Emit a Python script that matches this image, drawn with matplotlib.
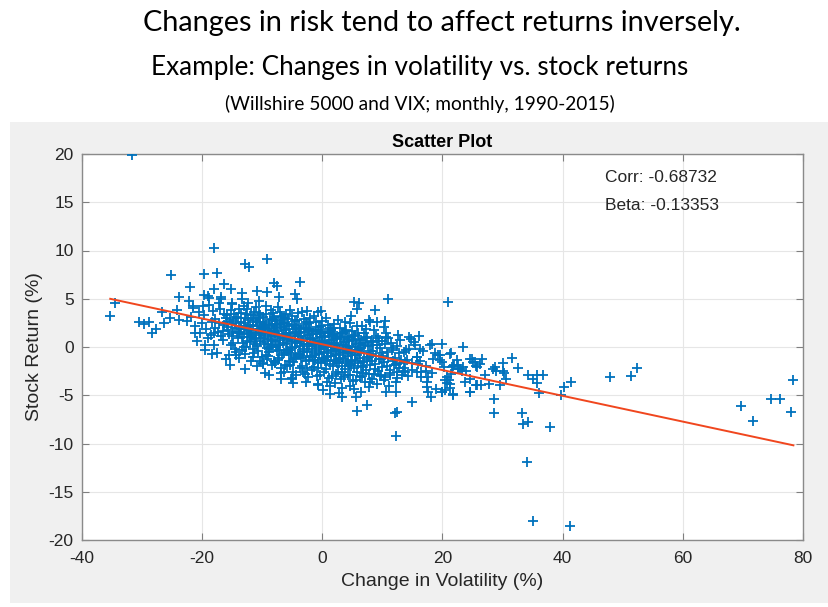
import numpy as np
import matplotlib
matplotlib.use("Agg")
import matplotlib.pyplot as plt
from matplotlib.patches import Rectangle

# ---------------- data (change in volatility %, stock return %) ----------------
left_tail = [
    (-31.7, 19.9), (-35.3, 3.2), (-34.5, 4.56), (-18.0, 10.26), (-25.2, 7.46), (-19.7, 7.6),
    (-17.5, 7.7), (-12.8, 8.6), (-12.2, 8.26), (-9.15, 9.1), (-22.0, 6.25), (-16.3, 6.56),
    (-18.1, 6.0), (-15.2, 5.97), (-23.85, 5.2), (-19.7, 5.36), (-19.0, 5.3), (-22.2, 4.77),
    (-21.6, 4.28), (-13.3, 5.6), (-10.9, 5.8), (-9.25, 5.73), (-8.0, 6.66), (-7.6, 6.35),
    (-7.26, 5.2), (-4.5, 5.46), (-4.2, 5.0), (-3.8, 6.7), (-26.7, 3.66), (-24.2, 3.83),
    (-30.5, 2.56), (-29.6, 2.35), (-28.8, 2.62), (-28.4, 1.48), (-27.7, 1.87), (-26.3, 2.45),
    (-25.4, 2.97), (-23.8, 2.76), (-21.2, 1.48), (-19.9, 4.25), (-16.9, 4.97), (-15.1, 4.6),
    (-2.6, 3.76), (-0.8, 3.66), (-0.3, 3.76), (-19.6, 0.2), (-18.3, -0.73), (-14.4, -0.55),
    (-14.4, -0.83), (-13.1, 0.0), (-11.5, -1.0), (-9.8, -1.7), (-9.5, -2.66), (-7.9, -1.7),
    (-6.8, -2.73), (-5.1, -3.24), (-6.2, -1.87),
]

core = [
    (-21.8, 3.1), (-21.2, 2.2), (-20.6, 3.6), (-20.3, 1.4), (-21.5, 4.0), (-20.9, 0.6), (-22.5, 2.7), (-20.1, 2.5),
    (-19.7, 3.3), (-19.3, 1.9), (-18.8, 4.4), (-18.4, 2.6), (-19.0, 0.9), (-18.2, 3.7), (-19.5, -0.3), (-18.6, 1.2),
    (-18.9, 5.1), (-18.1, 0.2),
    (-17.8, 2.9), (-17.4, 1.6), (-17.0, 3.9), (-16.6, 0.7), (-17.2, 4.6), (-16.3, 2.3), (-17.6, -0.6), (-16.9, 1.1),
    (-16.4, 3.4), (-17.9, 2.0), (-16.1, -1.2), (-16.8, 5.2),
    (-15.8, 2.6), (-15.5, 1.3), (-15.2, 3.8), (-14.8, 0.4), (-15.0, 4.5), (-14.5, 2.0), (-15.6, -0.8), (-14.3, 3.1),
    (-14.9, 1.6), (-15.3, -1.9), (-14.1, 0.9), (-15.9, 3.3), (-14.6, -0.2), (-15.1, 2.4),
    (-13.9, 2.2), (-13.6, 3.5), (-13.3, 1.0), (-13.0, 4.2), (-12.7, 0.0), (-12.4, 2.8), (-13.8, -1.1), (-12.2, 1.7),
    (-13.4, 5.0), (-12.9, -0.7), (-12.5, 3.9), (-13.1, 2.5), (-12.1, 0.5), (-13.7, 1.4), (-12.8, -2.3), (-12.3, 4.6),
    (-11.9, 1.9), (-11.6, 3.0), (-11.3, 0.8), (-11.0, 4.1), (-10.7, -0.4), (-10.4, 2.4), (-11.8, -1.5), (-10.2, 1.2),
    (-11.4, 3.6), (-10.9, 0.1), (-10.5, 4.8), (-11.1, 2.8), (-10.1, -1.0), (-11.7, 1.0), (-10.8, -2.0), (-10.3, 3.3),
    (-11.5, -0.2), (-10.6, 1.6),
    (-9.9, 2.1), (-9.6, 0.3), (-9.3, 3.4), (-9.0, -0.9), (-8.7, 1.5), (-8.4, 2.9), (-9.8, -1.8), (-8.2, 0.6),
    (-9.4, 4.3), (-8.9, -0.2), (-8.5, 3.8), (-9.1, 1.1), (-8.1, -1.4), (-9.7, 2.6), (-8.8, -2.9), (-8.3, 2.2),
    (-9.5, 1.8), (-8.6, 0.0), (-9.2, -1.2), (-8.0, 3.1),
    (-7.9, 1.4), (-7.6, 2.7), (-7.3, 0.2), (-7.0, 3.6), (-6.7, -0.8), (-6.4, 1.9), (-7.8, -1.6), (-6.2, 0.9),
    (-7.4, 4.1), (-6.9, -2.2), (-6.5, 3.0), (-7.1, 0.7), (-6.1, -0.3), (-7.7, 2.3), (-6.8, -3.3), (-6.3, 2.5),
    (-7.5, -0.4), (-6.6, 1.2), (-7.2, -1.1), (-6.0, 3.4),
    (-5.9, 1.0), (-5.6, 2.2), (-5.3, -0.3), (-5.0, 3.2), (-4.7, -1.2), (-4.4, 1.6), (-5.8, -2.0), (-4.2, 0.4),
    (-5.4, 3.8), (-4.9, -2.6), (-4.5, 2.7), (-5.1, 0.6), (-4.1, -0.7), (-5.7, 2.9), (-4.8, -3.7), (-4.3, 2.0),
    (-5.5, -1.5), (-4.6, 1.3), (-5.2, -0.6), (-4.0, 3.5),
    (-3.9, 0.8), (-3.6, 2.0), (-3.3, -0.5), (-3.0, 2.9), (-2.7, -1.4), (-2.4, 1.2), (-3.8, -2.2), (-2.2, 0.1),
    (-3.4, 3.6), (-2.9, -2.8), (-2.5, 2.4), (-3.1, 0.3), (-2.1, -0.9), (-3.7, 1.6), (-2.8, -3.6), (-2.3, 1.8),
    (-3.5, -1.1), (-2.6, 0.9), (-3.2, -0.2), (-2.0, 3.0),
    (-1.9, 0.5), (-1.6, 1.7), (-1.3, -0.8), (-1.0, 2.6), (-0.7, -1.6), (-0.4, 1.0), (-1.8, -2.4), (-0.2, -0.2),
    (-1.4, 3.2), (-0.9, -3.0), (-0.5, 2.1), (-1.1, 0.2), (-0.1, -1.1), (-1.7, 1.3), (-0.8, -3.9), (-0.3, 1.5),
    (-1.5, -1.3), (-0.6, 0.6), (-1.2, -0.4), (0.0, 2.7),
    (0.1, 0.2), (0.4, 1.4), (0.7, -1.0), (1.0, 2.3), (1.3, -1.8), (1.6, 0.7), (0.2, -2.6), (1.8, -0.4),
    (0.6, 3.0), (1.1, -3.2), (1.5, 1.8), (0.9, 0.0), (1.9, -1.3), (0.3, 1.1), (1.2, -4.0), (1.7, 1.2),
    (0.5, -1.5), (1.4, 0.4), (0.8, -0.6), (2.0, 2.4),
    (2.1, -0.1), (2.4, 1.1), (2.7, -1.2), (3.0, 2.0), (3.3, -2.0), (3.6, 0.5), (2.2, -2.8), (3.8, -0.6),
    (2.6, 2.8), (3.1, -3.3), (3.5, 1.5), (2.9, -0.2), (3.9, -1.5), (2.3, 0.9), (3.2, -4.2), (3.7, 2.6),
    (2.5, -1.7), (3.4, 0.2), (2.8, -0.8), (4.0, 1.8),
    (4.1, -0.3), (4.4, 0.9), (4.7, -1.4), (5.0, 1.7), (5.3, -2.2), (5.6, 0.3), (4.2, -2.9), (5.8, -0.8),
    (4.6, 2.5), (5.1, -3.5), (5.5, 1.2), (4.9, -0.4), (5.9, -1.7), (4.3, 0.7), (5.2, -4.4), (5.7, 2.2),
    (4.5, -1.9), (5.4, 0.0), (4.8, 3.2), (6.0, 1.4),
    (6.1, -0.5), (6.4, 0.7), (6.7, -1.6), (7.0, 1.4), (7.3, -2.4), (7.6, 0.1), (6.2, -3.1), (7.8, -1.0),
    (6.6, 2.2), (7.1, -3.6), (7.5, 0.9), (6.9, -0.6), (7.9, -1.9), (6.3, 0.4), (7.2, 1.9), (6.8, -2.7),
    (8.1, -0.7), (8.4, 0.5), (8.7, -1.8), (9.0, 1.1), (9.3, -2.5), (9.6, -0.1), (8.2, -3.3), (9.8, -1.2),
    (8.6, 1.8), (9.1, -3.8), (9.5, 0.6), (8.9, -0.9), (9.9, -2.1), (8.3, 0.2),
    (10.1, -0.9), (10.4, 0.3), (10.7, -2.0), (11.0, 0.9), (11.3, -2.7), (11.6, -0.3), (10.2, -3.4), (11.8, -1.4),
    (10.6, 1.5), (11.1, -4.0), (11.5, 0.4), (10.9, -1.1),
    (12.1, -1.1), (12.4, 0.1), (12.7, -2.2), (13.0, 0.7), (13.3, -2.9), (13.6, -0.5), (12.2, -3.6), (13.8, -1.6),
    (12.6, 1.2), (13.1, -1.3),
    (14.1, -1.3), (14.5, -0.2), (14.9, -2.4), (15.3, 0.5), (15.7, -1.0), (14.3, -3.0), (15.9, -1.8), (14.7, 0.8),
    (16.2, -1.5), (16.8, -0.4), (17.3, -2.0), (17.9, 0.2), (18.4, -1.2), (16.5, -2.6), (18.8, -0.6), (17.6, -3.1),
]

core_dense = [
    (-15.7, 1.8), (-15.4, 2.9), (-15.0, 1.1), (-14.7, 3.4), (-14.4, 2.5), (-14.2, 1.5), (-15.9, 2.1), (-15.2, 0.2),
    (-14.9, 2.7),
    (-13.8, 1.6), (-13.5, 2.6), (-13.2, 0.4), (-12.9, 3.0), (-12.6, 1.9), (-12.3, 1.0), (-13.9, 3.9), (-12.1, 2.3),
    (-13.4, -0.3), (-12.7, 3.4), (-13.0, 1.3),
    (-11.8, 1.2), (-11.5, 2.2), (-11.2, 0.3), (-10.9, 2.6), (-10.6, 1.8), (-10.3, 0.6), (-11.9, 3.3), (-10.1, 2.0),
    (-11.4, -0.6), (-10.7, 3.0), (-11.0, 1.5), (-10.4, -1.4),
    (-9.8, 0.9), (-9.5, 2.0), (-9.2, -0.1), (-8.9, 2.4), (-8.6, 1.3), (-8.3, 0.2), (-9.9, 3.1), (-8.1, 1.7),
    (-9.4, -0.8), (-8.7, 2.8), (-9.0, 0.8), (-8.4, -1.9), (-9.6, 1.5), (-8.2, 3.5),
    (-7.8, 0.6), (-7.5, 1.7), (-7.2, -0.3), (-6.9, 2.1), (-6.6, 0.9), (-6.3, -0.6), (-7.9, 2.8), (-6.1, 1.4),
    (-7.4, -1.3), (-6.7, 2.5), (-7.0, 0.2), (-6.4, -2.6), (-7.6, 1.1), (-6.2, 3.0),
    (-5.8, 0.3), (-5.5, 1.4), (-5.2, -0.8), (-4.9, 1.9), (-4.6, 0.5), (-4.3, -1.0), (-5.9, 2.4), (-4.1, 1.1),
    (-5.4, -1.9), (-4.7, 2.3), (-5.0, -0.1), (-4.4, -2.9), (-5.6, 0.8), (-4.2, 2.8),
    (-3.8, 0.1), (-3.5, 1.1), (-3.2, -1.0), (-2.9, 1.6), (-2.6, 0.3), (-2.3, -1.3), (-3.9, 2.2), (-2.1, 0.8),
    (-3.4, -2.0), (-2.7, 2.0), (-3.0, -0.4), (-2.4, -3.1), (-3.6, 0.6), (-2.2, 2.5),
    (-1.8, -0.2), (-1.5, 0.8), (-1.2, -1.3), (-0.9, 1.3), (-0.6, 0.0), (-0.3, -1.7), (-1.9, 1.9), (-0.1, 0.5),
    (-1.4, -2.1), (-0.7, 1.8), (-1.0, -0.6), (-0.4, -2.9), (-1.6, 0.3), (-0.2, 2.2),
    (0.2, -0.5), (0.5, 0.5), (0.8, -1.5), (1.1, 1.0), (1.4, -0.3), (1.7, -2.0), (0.1, 1.6), (1.9, 0.2),
    (0.6, -2.3), (1.3, 1.6), (1.0, -0.9), (1.6, -3.0), (0.4, 0.0), (1.8, 2.0),
    (2.2, -0.7), (2.5, 0.3), (2.8, -1.7), (3.1, 0.8), (3.4, -0.5), (3.7, -2.3), (2.1, 1.3), (3.9, -0.1),
    (2.6, -2.6), (3.3, 1.4), (3.0, -1.1), (3.6, -3.1), (2.4, -0.2), (3.8, 1.6),
    (4.2, -0.9), (4.5, 0.1), (4.8, -2.0), (5.1, 0.6), (5.4, -0.8), (5.7, -2.6), (4.1, 1.0), (5.9, -0.3),
    (4.6, -2.9), (5.3, 1.1), (5.0, -1.3), (5.6, -3.4), (4.4, -0.5),
    (6.2, -1.1), (6.5, -0.1), (6.8, -2.1), (7.1, 0.4), (7.4, -1.0), (7.7, -2.8), (6.1, 0.8), (7.9, -0.4),
    (6.6, -3.0), (7.3, 1.0), (7.0, -1.5),
    (8.2, -1.4), (8.5, -0.4), (8.8, -2.3), (9.1, 0.2), (9.4, -1.2), (9.7, -3.0), (8.1, 0.6), (9.9, -0.6),
    (8.6, -2.8), (9.3, 0.9),
    (10.3, -1.6), (10.8, -0.5), (11.2, -2.4), (11.7, -0.1), (10.5, -3.1), (11.9, -1.9), (10.0, 0.6),
    (12.3, -1.8), (12.8, -0.6), (13.4, -2.5), (13.9, -0.3), (12.5, -3.2),
]

core_center = [
    (-12.0, 1.4), (-11.6, 2.6), (-11.1, 0.9), (-10.8, 2.2), (-10.2, 1.5), (-9.7, 0.5), (-9.3, 2.3), (-9.0, 1.6),
    (-8.5, 0.7), (-8.0, 2.0), (-7.7, 0.0), (-7.3, 1.3), (-7.0, 2.4), (-6.5, 0.4), (-6.0, 1.8), (-5.7, -0.4),
    (-5.3, 1.1), (-5.0, 2.3), (-4.5, 0.0), (-4.0, 1.4), (-3.7, -0.8), (-3.3, 0.6), (-3.0, 1.9), (-2.5, -0.5),
    (-2.0, 0.9), (-1.7, -1.0), (-1.3, 0.4), (-1.0, 1.6), (-0.5, -0.7), (0.0, 0.6), (0.3, -1.2), (0.7, 0.3),
    (1.0, 1.5), (1.5, -0.9), (2.0, 0.4), (2.3, -1.5), (2.7, -0.3), (3.0, 1.0), (3.5, -1.2), (4.0, 0.1),
    (4.3, -1.7), (4.7, -0.6), (5.0, 0.7), (5.5, -1.5), (6.0, -0.3), (6.4, -2.0), (6.8, 0.2), (7.5, -1.2),
    (-13.5, 1.9), (-14.0, 3.0), (-12.5, 0.6), (-12.9, 2.2), (-10.5, 3.5), (-8.8, -0.5), (-6.8, 3.2), (-4.8, -1.6),
    (-2.8, 2.6), (-0.8, -2.2), (1.2, 2.0), (3.2, -2.6), (-16.5, 1.7), (-17.2, 2.5), (-18.0, 1.5), (-16.0, 3.0),
]

right_tail = [
    (5.3, 4.7), (6.05, 4.53), (5.85, 3.9), (11.0, 4.94), (20.9, 4.66), (8.7, 3.83), (7.8, 2.8), (7.9, 2.56),
    (9.15, 2.62), (10.4, 2.73), (10.3, 2.04), (10.6, 1.07), (14.4, 1.0), (16.1, 1.17), (18.3, 0.31), (19.9, 0.31),
    (23.4, 0.03), (15.4, 0.2), (16.3, -0.2), (21.4, -0.65), (19.3, -0.83), (19.6, -1.35), (24.6, -1.24),
    (25.4, -1.59), (25.7, -2.04), (23.4, -2.1), (23.9, -2.49), (21.7, -1.97), (22.6, -2.3), (21.4, -2.83),
    (20.4, -3.42), (21.3, -3.83), (23.7, -3.6), (25.8, -3.94), (24.5, -4.63), (21.7, -4.9), (20.0, -4.63),
    (19.0, -4.39), (18.1, -5.15), (17.6, -4.63), (17.4, -4.11), (14.9, -5.73), (12.4, -6.7), (12.15, -6.87),
    (12.3, -4.63), (10.6, -4.66), (7.4, -6.0), (5.7, -6.6), (5.6, -5.2), (3.3, -5.15), (2.7, -4.77), (1.3, -4.9),
    (0.17, -4.46), (-0.7, -3.87), (0.7, -3.66), (2.1, -3.76), (-5.2, -3.35), (-3.2, -2.56), (-2.6, -2.18),
    (7.9, -3.66), (7.7, -4.1), (6.4, -4.63), (4.6, -4.04), (9.6, -2.9), (11.3, -2.9), (12.5, -2.56),
    (13.8, -2.56), (13.6, -2.14), (12.9, -1.63), (15.7, -2.56), (16.5, -3.08), (17.4, -3.6), (15.7, -1.0),
    (14.9, -1.63), (17.2, -2.49), (18.2, -2.73), (21.3, -0.73), (19.6, -0.83), (20.0, -1.52), (20.3, -2.04),
    (21.5, -2.1), (21.9, -1.87), (22.4, -1.35), (22.6, -1.87), (22.9, -2.3), (23.2, -2.45), (24.9, -1.24),
    (25.0, -1.59), (25.6, -1.94), (26.2, -1.8), (26.6, -1.21), (28.4, -2.3), (28.7, -2.1), (28.9, -2.45),
    (30.0, -1.69), (30.0, -2.49), (30.3, -2.73), (30.5, -3.32), (31.5, -1.14), (32.5, -2.14), (27.1, -2.9),
    (27.8, -3.87), (29.5, -3.9), (24.6, -3.35), (24.6, -4.63), (25.6, -3.94), (26.4, -3.94), (34.3, -2.9),
    (35.7, -2.9), (36.8, -2.9), (35.1, -3.35), (35.7, -3.76), (36.1, -4.8), (39.7, -4.97), (40.3, -4.18),
    (41.4, -3.66), (47.9, -3.08), (51.4, -3.04), (52.3, -2.18), (28.5, -5.4), (28.5, -6.87), (21.8, -4.97),
    (33.2, -6.87), (33.4, -7.98), (34.3, -7.77), (37.9, -8.26), (20.7, -3.08), (21.0, -3.42), (20.7, -3.76),
    (21.3, -4.28), (20.4, -4.46), (19.9, -4.63), (34.0, -11.9), (35.1, -18.0), (41.2, -18.55), (69.7, -6.08),
    (71.7, -7.67), (74.7, -5.39), (76.2, -5.42), (78.0, -6.77), (78.4, -3.42), (12.3, -9.2),
]

corr_value = -0.68732
beta_value = -0.13353
intercept_value = 0.28

x_ticks = [-40, -20, 0, 20, 40, 60, 80]
y_ticks = [-20, -15, -10, -5, 0, 5, 10, 15, 20]

points = np.array(left_tail + core + core_dense + core_center + right_tail)
vol_change = points[:, 0]
stock_return = points[:, 1]

# ---------------- figure ----------------
W, H = 829, 607
fig = plt.figure(figsize=(W / 100, H / 100), dpi=100, facecolor="white")

# gray MATLAB-figure panel
fig.patches.append(Rectangle((10 / W, 1 - 603 / H), (W - 10) / W, (603 - 122) / H,
                             transform=fig.transFigure, facecolor="#f0f0f0",
                             edgecolor="none", zorder=-10))

title_font = ["Lato", "DejaVu Sans"]
fig.text(442 / W, 1 - 23 / H, "Changes in risk tend to affect returns inversely.",
         ha="center", va="center", fontsize=20.8, family=title_font, color="black")
fig.text(420 / W, 1 - 67 / H, "Example: Changes in volatility vs. stock returns",
         ha="center", va="center", fontsize=18.8, family=title_font, color="black")
fig.text(420 / W, 1 - 104 / H, "(Willshire 5000 and VIX; monthly, 1990-2015)",
         ha="center", va="center", fontsize=13.8, family=title_font, color="black")

left, right, top, bottom = 82, 803, 154, 540
ax = fig.add_axes([left / W, 1 - bottom / H, (right - left) / W, (bottom - top) / H])
ax.set_zorder(1)
ax.set_facecolor("white")

ax.plot(vol_change, stock_return, linestyle="none", marker="+", markersize=6.5,
        markeredgewidth=1.3, color="#0072BD", zorder=3)

xl = np.array([vol_change.min(), vol_change.max()])
ax.plot(xl, intercept_value + beta_value * xl, color="#F0461E", linewidth=1.4, zorder=4)

ax.set_xlim(-40, 80)
ax.set_ylim(-20, 20)
ax.set_xticks(x_ticks)
ax.set_yticks(y_ticks)
ax.set_xticklabels([str(v) for v in x_ticks])
ax.set_yticklabels([str(v) for v in y_ticks])

label_font = ["Liberation Sans", "DejaVu Sans"]
for lab in ax.get_xticklabels() + ax.get_yticklabels():
    lab.set_family(label_font)
    lab.set_fontsize(12.5)
    lab.set_color("#262626")

ax.tick_params(direction="in", length=5, width=0.8, color="#7f7f7f",
               top=True, right=True)
ax.tick_params(axis="x", pad=8)
ax.tick_params(axis="y", pad=6)
ax.grid(True, color="#e6e6e6", linewidth=0.8, zorder=0)
ax.set_axisbelow(True)
for s in ax.spines.values():
    s.set_color("#8a8a8a")
    s.set_linewidth(1.0)

ax.set_xlabel("Change in Volatility (%)", family=label_font, fontsize=14, color="#262626", labelpad=5)
ax.set_ylabel("Stock Return (%)", family=label_font, fontsize=14, color="#262626", labelpad=4)
ax.set_title("Scatter Plot", family=label_font, fontsize=13, fontweight="bold", color="black", pad=5)

ax.text(47.0, 17.6, f"Corr: {corr_value:.5f}", family=label_font, fontsize=12.5,
        ha="left", va="center", color="#262626")
ax.text(47.0, 14.7, f"Beta: {beta_value:.5f}", family=label_font, fontsize=12.5,
        ha="left", va="center", color="#262626")

fig.savefig("out.png", dpi=100, facecolor="white")
